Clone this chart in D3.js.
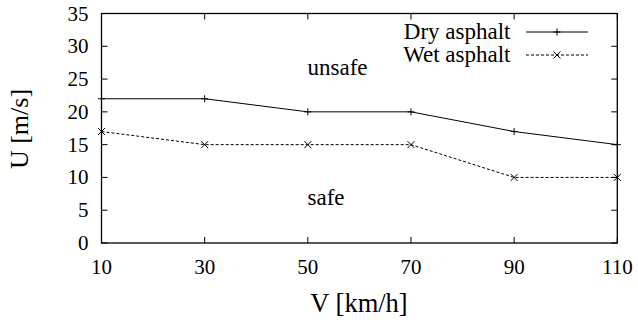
<!DOCTYPE html>
<html>
<head>
<meta charset="utf-8">
<script src="https://cdn.jsdelivr.net/npm/d3@7"></script>
<style>
  body { margin: 0; background: #fff; }
</style>
</head>
<body>
<script>
// chart values
const speeds = [10, 30, 50, 70, 90, 110];
const dryAsphalt = [22, 22, 20, 20, 17, 15];
const wetAsphalt = [17, 15, 15, 15, 10, 10];
const yTicks = [0, 5, 10, 15, 20, 25, 30, 35];

const width = 638, height = 320;
const margin = {left: 101.5, right: 20.7, top: 13.5, bottom: 77};
const serif = '"Liberation Serif", "Times New Roman", serif';

const svg = d3.select("body").append("svg")
    .attr("width", width)
    .attr("height", height)
    .style("font-family", serif);

const x = d3.scaleLinear().domain([10, 110]).range([margin.left, width - margin.right]);
const y = d3.scaleLinear().domain([0, 35]).range([height - margin.bottom, margin.top]);

const tickLen = 6;
const axes = svg.append("g").attr("stroke", "#000").attr("stroke-width", 1);

// inward ticks on all four sides
axes.selectAll(".xb").data(speeds).join("line")
    .attr("x1", d => x(d)).attr("x2", d => x(d))
    .attr("y1", y(0)).attr("y2", y(0) - tickLen);
axes.selectAll(".xt").data(speeds).join("line")
    .attr("x1", d => x(d)).attr("x2", d => x(d))
    .attr("y1", y(35)).attr("y2", y(35) + tickLen);
axes.selectAll(".yl").data(yTicks).join("line")
    .attr("x1", x(10)).attr("x2", x(10) + tickLen)
    .attr("y1", d => y(d)).attr("y2", d => y(d));
axes.selectAll(".yr").data(yTicks).join("line")
    .attr("x1", x(110)).attr("x2", x(110) - tickLen)
    .attr("y1", d => y(d)).attr("y2", d => y(d));

svg.append("rect")
    .attr("x", x(10)).attr("y", y(35))
    .attr("width", x(110) - x(10)).attr("height", y(0) - y(35))
    .attr("fill", "none").attr("stroke", "#000").attr("stroke-width", 1.3);

// tick labels
svg.append("g").selectAll("text").data(speeds).join("text")
    .attr("x", d => x(d)).attr("y", y(0) + 31)
    .attr("text-anchor", "middle").attr("font-size", 21)
    .style("font-family", serif)
    .text(d => d);
svg.append("g").selectAll("text").data(yTicks).join("text")
    .attr("x", 88.5).attr("y", d => y(d) + 7)
    .attr("text-anchor", "end").attr("font-size", 21)
    .style("font-family", serif)
    .text(d => d);

// axis titles
svg.append("text")
    .attr("x", 359).attr("y", 311.5)
    .attr("text-anchor", "middle").attr("font-size", 26.5)
    .style("font-family", serif)
    .text("V [km/h]");
svg.append("text")
    .attr("transform", "translate(28,129) rotate(-90)")
    .attr("text-anchor", "middle").attr("font-size", 26)
    .style("font-family", serif)
    .text("U [m/s]");

// region labels
svg.append("text").attr("x", 307.5).attr("y", 75).attr("font-size", 23)
    .style("font-family", serif).text("unsafe");
svg.append("text").attr("x", 307.5).attr("y", 205).attr("font-size", 23)
    .style("font-family", serif).text("safe");

const line = d3.line().x((d, i) => x(speeds[i])).y(d => y(d));

const series = [
  {name: "Dry asphalt", values: dryAsphalt, dash: null, mark: "plus"},
  {name: "Wet asphalt", values: wetAsphalt, dash: "3,2", mark: "cross"}
];

function marker(g, cx, cy, kind) {
  const s = 3.5;
  if (kind === "plus") {
    g.append("path").attr("d", `M${cx - s},${cy}H${cx + s}M${cx},${cy - s}V${cy + s}`);
  } else {
    g.append("path").attr("d", `M${cx - s},${cy - s}L${cx + s},${cy + s}M${cx - s},${cy + s}L${cx + s},${cy - s}`);
  }
}

series.forEach((s, k) => {
  const g = svg.append("g").attr("stroke", "#000").attr("fill", "none").attr("stroke-width", 1);
  g.append("path").datum(s.values)
      .attr("d", line)
      .attr("stroke-dasharray", s.dash);
  s.values.forEach((v, i) => marker(g, x(speeds[i]), y(v), s.mark));

  // legend entry
  const ly = 32 + k * 23;
  svg.append("text")
      .attr("x", 510.5).attr("y", ly + 6.5)
      .attr("text-anchor", "end").attr("font-size", 23)
      .style("font-family", serif)
      .text(s.name);
  const lg = svg.append("g").attr("stroke", "#000").attr("fill", "none").attr("stroke-width", 1);
  lg.append("line").attr("x1", 526).attr("x2", 588).attr("y1", ly).attr("y2", ly)
      .attr("stroke-dasharray", s.dash);
  marker(lg, 557, ly, s.mark);
});
</script>
</body>
</html>
